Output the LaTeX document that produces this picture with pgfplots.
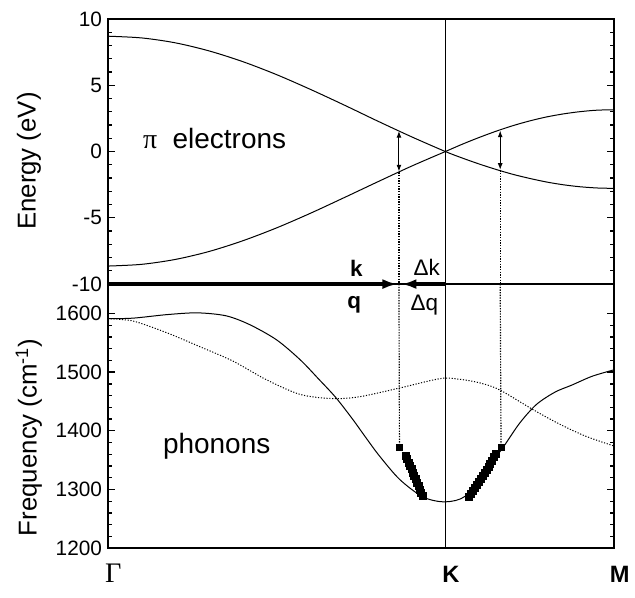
\documentclass[border=0pt]{standalone}
\usepackage{pgfplots}
\pgfplotsset{compat=1.18}
\usepackage{fontspec}
\setmainfont{Liberation Sans}
\newfontfamily\serif{Liberation Serif}
\usetikzlibrary{arrows.meta}

\begin{document}
\begin{tikzpicture}
\pgfplotsset{
  panel/.style={
    scale only axis, width=304.2pt, xmin=0, xmax=3, clip=false,
    every tick/.style={black, line width=0.8pt},
    major tick length=4.5pt, minor tick length=2.7pt,
    yticklabel style={font=\fontsize{12.5}{12.5}\selectfont},
    ylabel style={font=\fontsize{15.5}{15.5}\selectfont, anchor=center},
  },
}
\tikzset{
  curve/.style={line width=0.6pt, black, smooth},
  dotv/.style={line width=0.7pt, dash pattern=on 0.8pt off 0.8pt},
  tip/.style={line width=0.6pt, {Latex[length=4pt,width=3pt]}-{Latex[length=4pt,width=3pt]}},
}

% electrons
\begin{axis}[
  panel,
  at={(0,158.7pt)}, height=159.3pt,
  ymin=-10, ymax=10,
  ytick={-10,-5,0,5,10}, yticklabels={-10,-5,0,5,10},
  minor y tick num=4,
  xtick=\empty,
  ylabel={Energy (eV)},
  ylabel style={at={(axis description cs:-0.156,0.464)}},
]
\addplot[curve] coordinates {
  (0,8.70) (0.2,8.57) (0.4,8.20) (0.6,7.59) (0.8,6.78) (1.0,5.80)
  (1.2,4.69) (1.4,3.51) (1.6,2.29) (1.8,1.11) (2.0,0)
  (2.1,-0.49) (2.2,-0.94) (2.3,-1.35) (2.4,-1.72) (2.5,-2.03)
  (2.6,-2.30) (2.7,-2.51) (2.8,-2.66) (2.9,-2.75) (3.0,-2.78)
};
\addplot[curve] coordinates {
  (0,-8.64) (0.2,-8.51) (0.4,-8.14) (0.6,-7.54) (0.8,-6.73) (1.0,-5.76)
  (1.2,-4.66) (1.4,-3.48) (1.6,-2.28) (1.8,-1.10) (2.0,0)
  (2.1,0.55) (2.2,1.06) (2.3,1.53) (2.4,1.95) (2.5,2.31)
  (2.6,2.61) (2.7,2.84) (2.8,3.01) (2.9,3.12) (3.0,3.15)
};
\draw[line width=1.1pt] (rel axis cs:0,0) rectangle (rel axis cs:1,1);
\draw[line width=0.6pt] (axis cs:2,-10) -- (axis cs:2,10);
\draw[tip] (axis cs:1.725,-1.50) -- (axis cs:1.725,1.55);
\draw[tip] (axis cs:2.325,-1.38) -- (axis cs:2.325,1.58);
\draw[dotv] (axis cs:1.725,-1.56) -- (axis cs:1.725,-10);
\draw[dotv] (axis cs:2.325,-1.42) -- (axis cs:2.325,-10);
\draw[line width=2.2pt, -{Latex[length=9pt,width=6pt]}] (axis cs:0,-10) -- (axis cs:1.716,-10);
\draw[line width=2.2pt, -{Latex[length=9pt,width=6pt]}] (axis cs:2,-10) -- (axis cs:1.74,-10);
\node[font=\fontsize{16.8}{16.8}\selectfont] at (axis cs:0.633,1.02) {{\serif π}\hspace{0.55em}electrons};
\node[font=\fontsize{13.5}{13.5}\selectfont\bfseries] at (axis cs:1.473,-8.85) {k};
\node[font=\fontsize{13.5}{13.5}\selectfont] at (axis cs:1.89,-8.75) {Δk};
\end{axis}

% phonons
\begin{axis}[
  panel,
  at={(0,0)}, height=158.7pt,
  ymin=1200, ymax=1650,
  ytick={1200,1300,1400,1500,1600}, yticklabels={1200,1300,1400,1500,1600},
  minor y tick num=4,
  xtick={0,2,3},
  xticklabels={{\serif\mdseries\fontsize{17}{17}\selectfont Γ},K,M},
  xtick style={draw=none},
  xticklabel style={anchor=base, yshift=-20.4pt, xshift=3.3pt, font=\fontsize{14.2}{14.2}\selectfont\bfseries},
  ylabel={Frequency (cm\textsuperscript{-1})},
  ylabel style={at={(axis description cs:-0.156,0.42)}},
]
\addplot[curve] coordinates {
  (0,1591) (0.15,1592) (0.35,1598) (0.53,1601) (0.70,1596) (0.84,1581)
  (1.0,1555) (1.14,1521) (1.25,1488) (1.35,1457) (1.45,1420) (1.53,1388)
  (1.61,1357) (1.73,1317) (1.87,1287) (2.0,1279) (2.12,1289) (2.24,1333)
  (2.34,1371) (2.44,1413) (2.54,1445) (2.65,1466) (2.75,1478) (2.87,1493)
  (3.0,1504)
};
\addplot[line width=0.6pt, smooth, dash pattern=on 0.7pt off 1.0pt] coordinates {
  (0,1591) (0.15,1587) (0.35,1567) (0.54,1544) (0.74,1519) (0.94,1487)
  (1.14,1462) (1.33,1455) (1.49,1458) (1.73,1473) (1.97,1489) (2.08,1488)
  (2.20,1482) (2.32,1470) (2.52,1436) (2.68,1411) (2.83,1391) (3.0,1374)
};
\addplot[only marks, mark=square*, mark size=2.1pt] coordinates {
  (1.765,1358) (1.773,1352) (1.782,1346) (1.790,1341) (1.799,1335)
  (1.807,1329) (1.815,1323) (1.824,1318) (1.832,1312) (1.841,1306)
  (1.849,1300) (1.857,1295) (1.866,1289)
};
\addplot[only marks, mark=square*, mark size=2.1pt] coordinates {
  (2.142,1287) (2.153,1292) (2.165,1297) (2.176,1303) (2.187,1308)
  (2.198,1313) (2.210,1318) (2.221,1323) (2.232,1329) (2.244,1334)
  (2.255,1339) (2.266,1344) (2.277,1349) (2.289,1355) (2.300,1360)
};
\addplot[only marks, mark=square*, mark size=1.9pt] coordinates {
  (1.728,1372) (2.33,1372)
};
\draw[line width=1.1pt] (rel axis cs:0,0) rectangle (rel axis cs:1,1);
\draw[line width=0.6pt] (axis cs:2,1200) -- (axis cs:2,1650);
\draw[dotv] (axis cs:1.725,1650) -- (axis cs:1.728,1372);
\draw[dotv] (axis cs:2.325,1650) -- (axis cs:2.33,1372);
\node[font=\fontsize{16.8}{16.8}\selectfont] at (axis cs:0.645,1373) {phonons};
\node[font=\fontsize{13.5}{13.5}\selectfont\bfseries] at (axis cs:1.46,1615) {q};
\node[font=\fontsize{13.5}{13.5}\selectfont] at (axis cs:1.876,1615) {Δq};
\end{axis}
\path (-64.8pt,-29.4pt) rectangle (316.2pt,329.4pt);
\end{tikzpicture}
\end{document}
